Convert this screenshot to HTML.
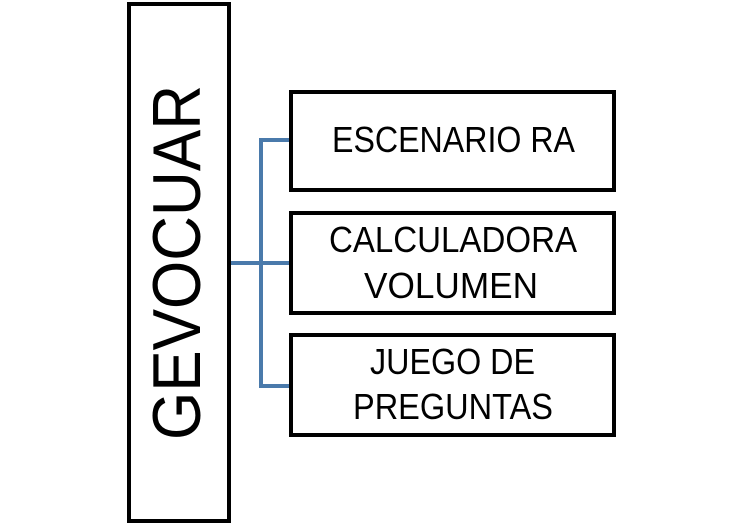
<!DOCTYPE html>
<html><head><meta charset="utf-8"><style>html,body{margin:0;padding:0;background:#fff}svg{display:block}</style></head>
<body>
<svg width="743" height="525" viewBox="0 0 743 525" xmlns="http://www.w3.org/2000/svg" font-family="Liberation Sans, sans-serif">
<g fill="none" stroke="#4a7aab" stroke-width="4">
<line x1="230" y1="263" x2="291" y2="263"/>
<polyline points="291,140 261,140 261,386 291,386"/>
</g>
<g fill="#fff" stroke="#000" stroke-width="4">
<rect x="129" y="4" width="100" height="517"/>
<rect x="291" y="92" width="323" height="98"/>
<rect x="291" y="213" width="323" height="100"/>
<rect x="291" y="335" width="323" height="100"/>
</g>
<g fill="#000">
<text transform="translate(200,440) rotate(-90)" font-size="68" textLength="355" lengthAdjust="spacingAndGlyphs">GEVOCUAR</text>
<text x="332" y="152" font-size="36" textLength="243" lengthAdjust="spacingAndGlyphs">ESCENARIO RA</text>
<text x="329" y="252" font-size="36" textLength="248" lengthAdjust="spacingAndGlyphs">CALCULADORA</text>
<text x="364" y="298" font-size="36" textLength="174" lengthAdjust="spacingAndGlyphs">VOLUMEN</text>
<text x="370" y="374" font-size="36" textLength="165" lengthAdjust="spacingAndGlyphs">JUEGO DE</text>
<text x="353" y="419" font-size="36" textLength="200" lengthAdjust="spacingAndGlyphs">PREGUNTAS</text>
</g>
</svg>
</body></html>
